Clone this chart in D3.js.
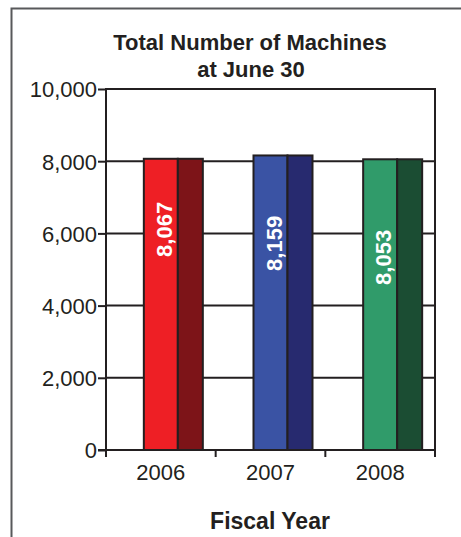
<!DOCTYPE html>
<html>
<head>
<meta charset="utf-8">
<script src="https://cdn.jsdelivr.net/npm/d3@7"></script>
<style>
  html, body { margin: 0; padding: 0; background: #fff; }
  svg { display: block; }
  text { font-family: "Liberation Sans", Arial, sans-serif; fill: #231f20; }
</style>
</head>
<body>
<svg id="chart" width="461" height="537"></svg>
<script>
// ---- data ----
const years = ["2006", "2007", "2008"];
const machines = [8067, 8159, 8053];
const labels = ["8,067", "8,159", "8,053"];
const yTicks = [0, 2000, 4000, 6000, 8000, 10000];
const frontColors = ["#ee1f25", "#3a53a4", "#309b6a"];
const sideColors = ["#7d1418", "#272a6f", "#1b4d33"];
const titleLines = ["Total Number of Machines", "at June 30"];
const xTitle = "Fiscal Year";

// ---- layout ----
const W = 461, H = 537;
const plot = { left: 106, right: 435, top: 89, bottom: 450 };
const ink = "#231f20";

const svg = d3.select("#chart");

// outer frame (left and top edges visible)
svg.append("path")
  .attr("d", `M11.5,${H} V8.5 H${W}`)
  .attr("fill", "none").attr("stroke", "#58595b").attr("stroke-width", 2);

const x = d3.scaleBand().domain(years).range([plot.left, plot.right]).padding(0);
const y = d3.scaleLinear().domain([0, 10000]).range([plot.bottom, plot.top]);

// gridlines
svg.append("g").selectAll("line").data(yTicks.filter(d => d > 0)).join("line")
  .attr("x1", plot.left).attr("x2", plot.right)
  .attr("y1", d => y(d)).attr("y2", d => y(d))
  .attr("stroke", ink).attr("stroke-width", 2);

// right border
svg.append("line")
  .attr("x1", plot.right).attr("x2", plot.right)
  .attr("y1", plot.top - 1).attr("y2", plot.bottom)
  .attr("stroke", ink).attr("stroke-width", 2);

// bars
const frontW = 34, sideW = 25;
const bars = svg.append("g");
years.forEach((yr, i) => {
  const cx = x(yr) + x.bandwidth() / 2;
  const top = y(machines[i]);
  bars.append("rect")
    .attr("x", cx - frontW / 2).attr("y", top)
    .attr("width", frontW).attr("height", y(0) - top)
    .attr("fill", frontColors[i]).attr("stroke", ink).attr("stroke-width", 2);
  bars.append("rect")
    .attr("x", cx + frontW / 2).attr("y", top)
    .attr("width", sideW).attr("height", y(0) - top)
    .attr("fill", sideColors[i]).attr("stroke", ink).attr("stroke-width", 2);
  const ly = y(6000) - 4 + i * 14;
  bars.append("text")
    .attr("transform", `translate(${cx},${ly}) rotate(-90)`)
    .attr("text-anchor", "middle").attr("dy", "0.5em")
    .style("fill", "#fff").style("font-weight", "bold").style("font-size", "22px")
    .text(labels[i]);
});

// y axis
const yAxis = d3.axisLeft(y).tickValues(yTicks).tickFormat(d3.format(",")).tickSize(8).tickPadding(1);
const gy = svg.append("g").attr("transform", `translate(${plot.left},0)`).call(yAxis);
gy.select(".domain").remove();
gy.selectAll(".tick line").attr("stroke", ink).attr("stroke-width", 2);
gy.selectAll(".tick text").style("font-size", "22px").style("fill", ink)
  .attr("font-family", null).attr("dy", "0.36em");
svg.append("line")
  .attr("x1", plot.left).attr("x2", plot.left)
  .attr("y1", plot.top - 1).attr("y2", plot.bottom + 7)
  .attr("stroke", ink).attr("stroke-width", 2);

// x axis
const xAxis = d3.axisBottom(x).tickSize(0).tickPadding(14);
const gx = svg.append("g").attr("transform", `translate(0,${plot.bottom})`).call(xAxis);
gx.select(".domain").remove();
gx.selectAll(".tick text").style("font-size", "22px").style("fill", ink).attr("font-family", null);
svg.append("line")
  .attr("x1", plot.left - 8).attr("x2", plot.right)
  .attr("y1", plot.bottom).attr("y2", plot.bottom)
  .attr("stroke", ink).attr("stroke-width", 2);
// category separator ticks
svg.append("g").selectAll("line").data(years.slice(1).concat(["end"])).join("line")
  .attr("x1", (d, i) => i < years.length - 1 ? x(years[i + 1]) : plot.right)
  .attr("x2", (d, i) => i < years.length - 1 ? x(years[i + 1]) : plot.right)
  .attr("y1", plot.bottom).attr("y2", plot.bottom + 7)
  .attr("stroke", ink).attr("stroke-width", 2);

// title (two lines)
const title = svg.append("text").attr("text-anchor", "middle")
  .style("font-weight", "bold").style("font-size", "22px");
title.append("tspan").attr("x", 250).attr("y", 50).text(titleLines[0]);
title.append("tspan").attr("x", 251).attr("dy", 27).text(titleLines[1]);

svg.append("text").attr("x", 270).attr("y", 529).attr("text-anchor", "middle")
  .style("font-weight", "bold").style("font-size", "23px").text(xTitle);
</script>
</body>
</html>
